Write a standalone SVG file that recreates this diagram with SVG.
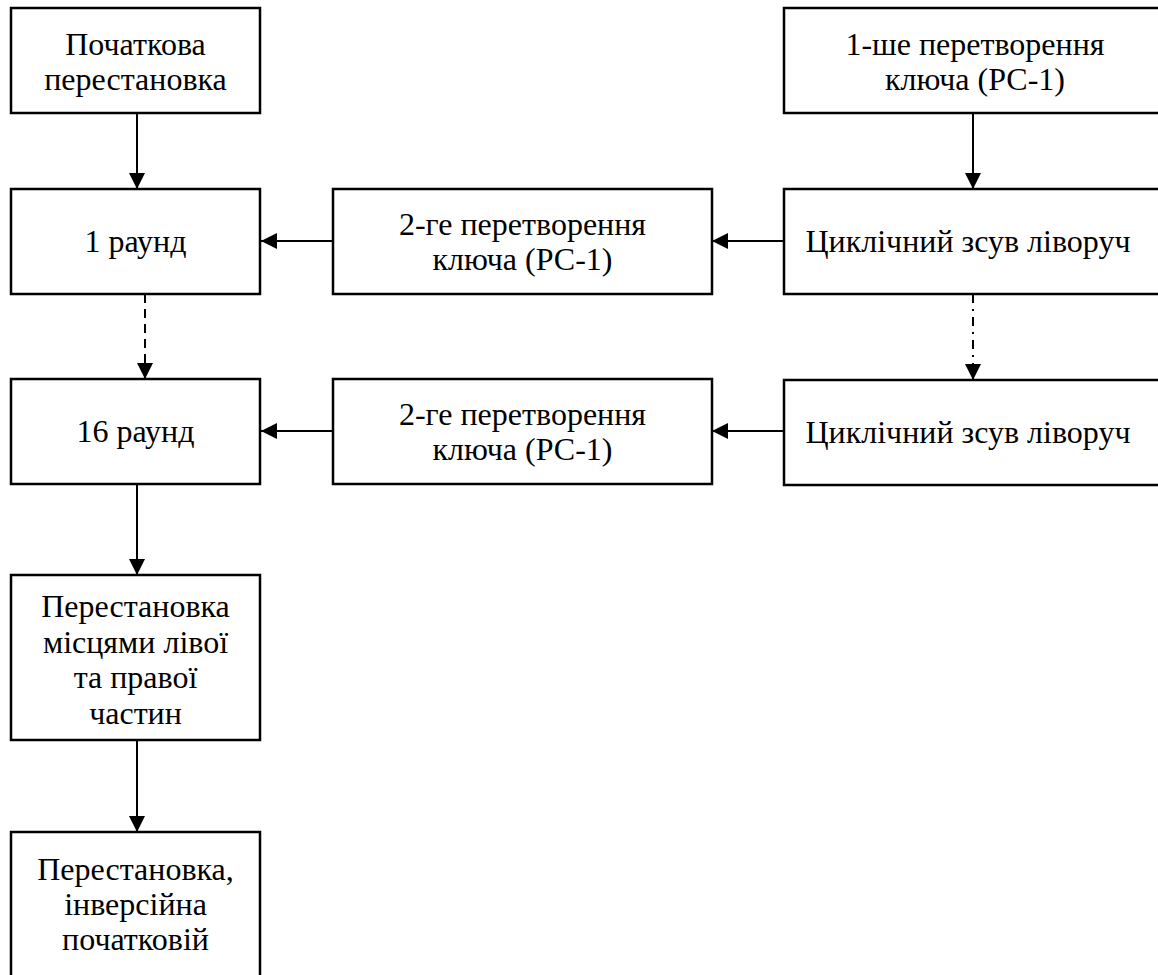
<svg xmlns="http://www.w3.org/2000/svg" width="1158" height="975" viewBox="0 0 1158 975">
  <style>
    .box { fill: #ffffff; stroke: #000000; stroke-width: 2.5; }
    .lbl { font-size: 32px; fill: #000000; text-anchor: middle; }
    .conn { stroke: #000000; stroke-width: 2; fill: none; marker-end: url(#arrow); }
    .dash { stroke-dasharray: 9 6; }
    .dashdot { stroke-dasharray: 9 6 2 6; }
  </style>
  <defs>
    <marker id="arrow" viewBox="0 0 16 16" markerWidth="16" markerHeight="16" markerUnits="userSpaceOnUse" refX="16" refY="8" orient="auto">
      <path d="M0,0 L16,8 L0,16 z" fill="#000000"/>
    </marker>
  </defs>
  <rect width="1158" height="975" fill="#ffffff"/>

  <g id="connectors">
    <line class="conn" x1="137" y1="113" x2="137" y2="189"/>
    <line class="conn dash" x1="145" y1="294" x2="145" y2="379"/>
    <line class="conn" x1="137" y1="484" x2="137" y2="575"/>
    <line class="conn" x1="137" y1="740" x2="137" y2="832"/>
    <line class="conn" x1="973" y1="113" x2="973" y2="189"/>
    <line class="conn dashdot" x1="973" y1="294" x2="973" y2="380"/>
    <line class="conn" x1="784" y1="241" x2="712" y2="241"/>
    <line class="conn" x1="333" y1="241" x2="261" y2="241"/>
    <line class="conn" x1="784" y1="431" x2="712" y2="431"/>
    <line class="conn" x1="333" y1="431" x2="261" y2="431"/>
  </g>

  <g font-family="'Liberation Serif', 'Times New Roman', 'DejaVu Serif', serif">
  <g id="initial-permutation">
    <rect class="box" x="11" y="8" width="249" height="105"/>
    <text class="lbl" x="135.5" y="54.5">Початкова</text>
    <text class="lbl" x="135.5" y="90">перестановка</text>
  </g>

  <g id="round-1">
    <rect class="box" x="11" y="189" width="249" height="105"/>
    <text class="lbl" x="135.5" y="252">1 раунд</text>
  </g>

  <g id="round-16">
    <rect class="box" x="11" y="379" width="249" height="105"/>
    <text class="lbl" x="135.5" y="442">16 раунд</text>
  </g>

  <g id="swap">
    <rect class="box" x="11" y="575" width="249" height="165"/>
    <text class="lbl" x="135.5" y="617">Перестановка</text>
    <text class="lbl" x="135.5" y="652.5">місцями лівої</text>
    <text class="lbl" x="135.5" y="688">та правої</text>
    <text class="lbl" x="135.5" y="724">частин</text>
  </g>

  <g id="final-permutation">
    <rect class="box" x="11" y="832" width="249" height="150"/>
    <text class="lbl" x="135.5" y="880">Перестановка,</text>
    <text class="lbl" x="135.5" y="915">інверсійна</text>
    <text class="lbl" x="135.5" y="950">початковій</text>
  </g>

  <g id="pc2-1">
    <rect class="box" x="333" y="189" width="379" height="105"/>
    <text class="lbl" x="522.5" y="234.5">2-ге перетворення</text>
    <text class="lbl" x="522.5" y="270">ключа (РС-1)</text>
  </g>

  <g id="pc2-16">
    <rect class="box" x="333" y="379" width="379" height="105"/>
    <text class="lbl" x="522.5" y="424.5">2-ге перетворення</text>
    <text class="lbl" x="522.5" y="460">ключа (РС-1)</text>
  </g>

  <g id="pc1">
    <rect class="box" x="784" y="8" width="384" height="105"/>
    <text class="lbl" x="975" y="54.5">1-ше перетворення</text>
    <text class="lbl" x="975" y="90">ключа (РС-1)</text>
  </g>

  <g id="shift-1">
    <rect class="box" x="784" y="189" width="384" height="105"/>
    <text class="lbl" x="968" y="252">Циклічний зсув ліворуч</text>
  </g>

  <g id="shift-16">
    <rect class="box" x="784" y="380" width="384" height="105"/>
    <text class="lbl" x="968" y="443">Циклічний зсув ліворуч</text>
  </g>
  </g>
</svg>
